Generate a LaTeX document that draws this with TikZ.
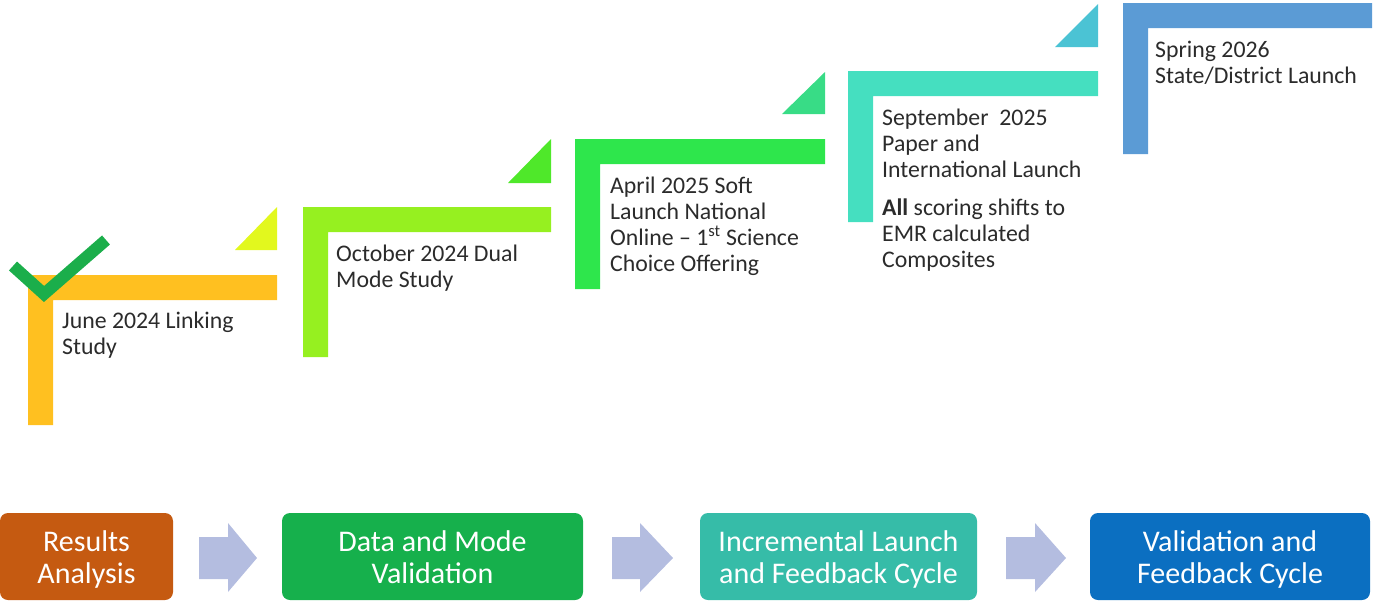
\documentclass[tikz,border=0pt]{standalone}
\usepackage{fontspec}
\setmainfont{Carlito}
\definecolor{txt}{HTML}{2B2B2B}
\definecolor{sA}{HTML}{FFC020}
\definecolor{tA}{HTML}{E2F81E}
\definecolor{sB}{HTML}{96F020}
\definecolor{tB}{HTML}{4FE82A}
\definecolor{sC}{HTML}{2EE64C}
\definecolor{tC}{HTML}{38DC86}
\definecolor{sD}{HTML}{45DFC0}
\definecolor{tD}{HTML}{4BC3D4}
\definecolor{sE}{HTML}{5B9BD5}
\definecolor{check}{HTML}{1BAE4B}
\definecolor{bA}{HTML}{C55A11}
\definecolor{bB}{HTML}{16B04C}
\definecolor{bC}{HTML}{36BCA8}
\definecolor{bD}{HTML}{0B6FC1}
\definecolor{arr}{HTML}{B4BDE0}
\newcommand\phtxt[2]{\raisebox{-5pt}[\height][\depth]{\begin{tabular}{@{}c@{}}#1\\#2\end{tabular}}}
\begin{document}
\begin{tikzpicture}[x=1pt,y=-1pt,
  steptext/.style={anchor=north west, inner sep=0pt, align=left, text=txt,
    font=\fontsize{23.8}{26}\selectfont},
  phase/.style={rounded corners=8pt, minimum height=87pt, inner sep=0pt,
    text=white, align=center, font=\fontsize{30}{32}\selectfont},
  blockarrow/.style={fill=arr}]
\useasboundingbox (0,0) rectangle (1376,603);

% L-shaped steps
\fill[sA] (28,275) -- (277,275) -- (277,300) -- (53,300) -- (53,425) -- (28,425) -- cycle;
\fill[sB] (303,207) -- (551,207) -- (551,232) -- (328,232) -- (328,357) -- (303,357) -- cycle;
\fill[sC] (575,139) -- (825,139) -- (825,164) -- (600,164) -- (600,289) -- (575,289) -- cycle;
\fill[sD] (848,71) -- (1098,71) -- (1098,96) -- (873,96) -- (873,222) -- (848,222) -- cycle;
\fill[sE] (1123,3) -- (1372,3) -- (1372,28) -- (1148,28) -- (1148,154) -- (1123,154) -- cycle;

% triangles
\fill[tA] (235,250) -- (277,250) -- (277,207) -- cycle;
\fill[tB] (508,183) -- (551,183) -- (551,139) -- cycle;
\fill[tC] (782,114) -- (825,114) -- (825,72) -- cycle;
\fill[tD] (1055,47) -- (1098,47) -- (1098,4) -- cycle;

% check mark
\draw[check, line width=12pt] (13,266) -- (44,294) -- (106,240);

% step texts
\node[steptext] (t1) at (62,312) {June 2024 Linking\\Study};
\node[steptext] (t2) at (336,245) {October 2024 Dual\\Mode Study};
\node[steptext] (t3) at (610,177) {April 2025 Soft\\Launch National\\Online -- 1\textsuperscript{st} Science\\Choice Offering};
\node[steptext] (t4) at (882,109) {September\ \ 2025\\Paper and\\International Launch\\[12pt]\textbf{All} scoring shifts to\\EMR calculated\\Composites};
\node[steptext] (t5) at (1155,41) {Spring 2026\\State/District Launch};

% bottom phases
\node[phase, fill=bA, minimum width=173pt] (p1) at (86.5,556.5) {\phtxt{Results}{Analysis}};
\node[phase, fill=bB, minimum width=301pt] (p2) at (432.5,556.5) {\phtxt{Data and Mode}{Validation}};
\node[phase, fill=bC, minimum width=277pt] (p3) at (838.5,556.5) {\phtxt{Incremental Launch}{and Feedback Cycle}};
\node[phase, fill=bD, minimum width=280pt] (p4) at (1230,556.5) {\phtxt{Validation and}{Feedback Cycle}};

% block arrows
\fill[blockarrow] (199,537) -- (228,537) -- (228,523) -- (257,558) -- (228,592) -- (228,579) -- (199,579) -- cycle;
\fill[blockarrow] (612,537) -- (640,537) -- (640,523) -- (673,558) -- (640,592) -- (640,579) -- (612,579) -- cycle;
\fill[blockarrow] (1006,537) -- (1035,537) -- (1035,523) -- (1066,558) -- (1035,592) -- (1035,579) -- (1006,579) -- cycle;
\end{tikzpicture}
\end{document}
